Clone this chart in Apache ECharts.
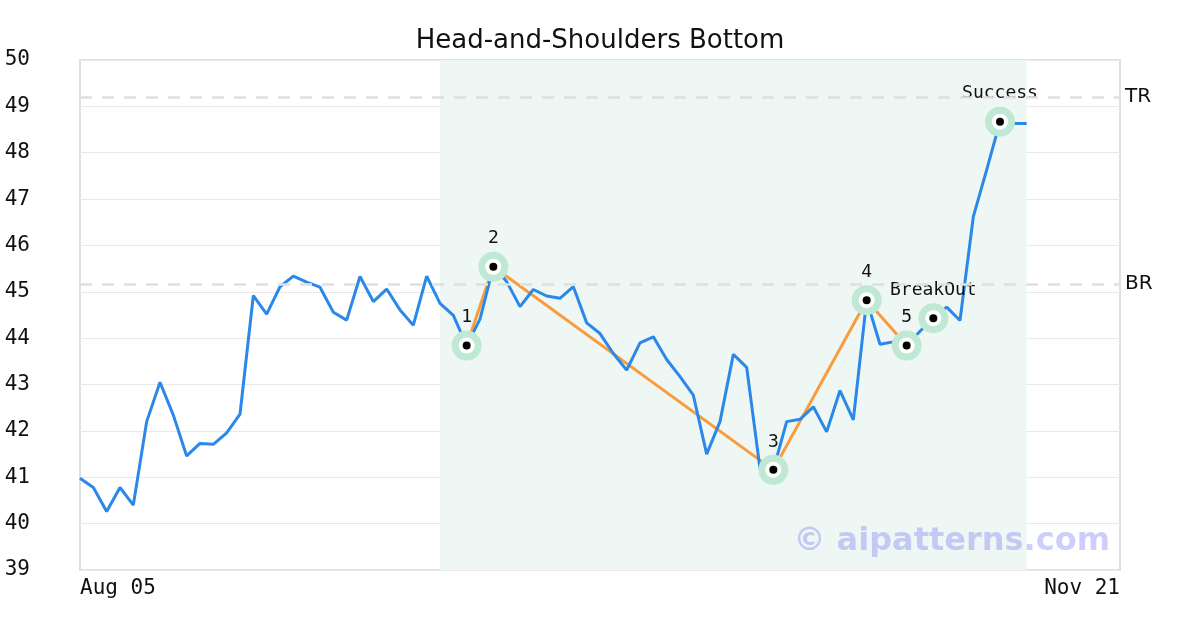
<!DOCTYPE html>
<html>
<head>
<meta charset="utf-8">
<script src="https://cdn.jsdelivr.net/npm/echarts@6/dist/echarts.min.js"></script>
<style>
html,body{margin:0;padding:0;background:#fff;}
#chart{width:1200px;height:630px;}
</style>
</head>
<body>
<div id="chart"></div>
<script>
// ---- data ----
const title = 'Head-and-Shoulders Bottom';
const prices = [40.98, 40.78, 40.26, 40.78, 40.40, 42.20, 43.05, 42.34, 41.46, 41.73,
  41.71, 41.96, 42.36, 44.92, 44.52, 45.11, 45.34, 45.21, 45.10, 44.56,
  44.39, 45.33, 44.79, 45.06, 44.61, 44.28, 45.34, 44.75, 44.49, 43.84,
  44.41, 45.54, 45.22, 44.68, 45.05, 44.91, 44.86, 45.11, 44.33, 44.10,
  43.67, 43.31, 43.90, 44.03, 43.54, 43.17, 42.77, 41.50, 42.20, 43.65,
  43.37, 41.19, 41.16, 42.20, 42.25, 42.52, 41.98, 42.87, 42.24, 44.82,
  43.87, 43.92, 43.84, 44.15, 44.43, 44.67, 44.38, 46.62, 47.63, 48.67,
  48.63, 48.63];
const xTickPositions = [0, 78];
const xTickLabels = ['Aug 05', 'Nov 21'];
const patternIdx = [29, 31, 52, 59, 62, 64, 69];
const patternLabels = ['1', '2', '3', '4', '5', 'BreakOut', 'Success'];
const patternLineCount = 5;
const patternRange = [27, 71];
const levelNames = ['TR', 'BR'];
const levelValues = [49.2, 45.17];
const watermark = '\u00a9 aipatterns.com';

// ---- build ----
const lineData = prices.map((v, i) => [i, v]);
const pts = patternIdx.map((i, k) => ({ value: [i, prices[i]], label: patternLabels[k] }));
const orangeData = pts.slice(0, patternLineCount).map(p => p.value);

const chart = echarts.init(document.getElementById('chart'), null, { renderer: 'canvas' });
const mono = 'DejaVu Sans Mono';
chart.setOption({
  animation: false,
  backgroundColor: '#fff',
  title: {
    text: title, left: 'center', top: 23,
    textStyle: { fontFamily: 'DejaVu Sans', fontSize: 26, fontWeight: 'normal', color: '#111' }
  },
  grid: { left: 80, right: 80, top: 60, bottom: 60, show: true, borderColor: '#e0e0e0', borderWidth: 2, backgroundColor: 'transparent' },
  xAxis: {
    type: 'value', min: xTickPositions[0], max: xTickPositions[1], interval: xTickPositions[1] - xTickPositions[0],
    axisLine: { show: false }, axisTick: { show: false }, splitLine: { show: false },
    axisLabel: {
      margin: 8, fontFamily: mono, fontSize: 21, color: '#111',
      alignMinLabel: 'left', alignMaxLabel: 'right',
      formatter: v => xTickLabels[xTickPositions.indexOf(v)] || ''
    }
  },
  yAxis: {
    type: 'value', min: 39, max: 50, interval: 1,
    axisLine: { show: false }, axisTick: { show: false },
    splitLine: { show: true, lineStyle: { color: '#e9e9e9', width: 1 } },
    axisLabel: { margin: 50, fontFamily: mono, fontSize: 21, color: '#111', padding: [5, 0, 0, 0] }
  },
  graphic: [{
    type: 'text', right: 90, top: 526, z: 100,
    style: { text: watermark, font: 'bold 32px "DejaVu Sans"', fill: 'rgba(120,120,250,0.36)' }
  }],
  series: [
    {
      type: 'line', data: [], z: 1, silent: true,
      markArea: {
        silent: true,
        itemStyle: { color: '#eef7f3' },
        data: [[{ xAxis: patternRange[0] }, { xAxis: patternRange[1] }]]
      },
      markLine: {
        silent: true, symbol: 'none',
        lineStyle: { color: '#e0e0e0', width: 2.5, type: [12, 10] },
        label: { position: 'end', formatter: '{b}', fontFamily: 'DejaVu Sans', fontSize: 20, color: '#111', distance: 5, padding: [3, 0, 0, 0] },
        data: levelNames.map((n, k) => ({ name: n, yAxis: levelValues[k] }))
      }
    },
    {
      type: 'line', data: lineData, symbol: 'none', z: 3,
      lineStyle: { color: '#2b88e8', width: 3 }
    },
    {
      type: 'line', data: orangeData, symbol: 'none', z: 2,
      lineStyle: { color: '#f89c3e', width: 3 }
    },
    {
      type: 'scatter', data: pts.map(p => ({ value: p.value, name: p.label })), z: 4,
      symbolSize: 30, itemStyle: { color: '#bfe9d5', opacity: 1 },
      label: { show: true, position: 'top', distance: 4, formatter: '{b}', fontFamily: mono, fontSize: 18, color: '#111' }
    },
    {
      type: 'scatter', data: pts.map(p => p.value), z: 5,
      symbolSize: 16, itemStyle: { color: '#fff', opacity: 1 }
    },
    {
      type: 'scatter', data: pts.map(p => p.value), z: 6,
      symbolSize: 8, itemStyle: { color: '#000', opacity: 1 }
    }
  ]
});
</script>
</body>
</html>
